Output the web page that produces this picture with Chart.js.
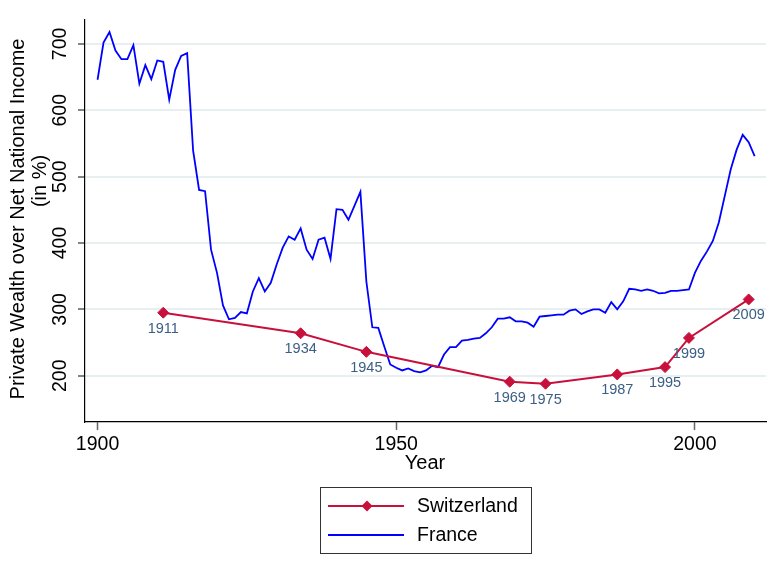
<!DOCTYPE html>
<html lang="en">
<head>
    <meta charset="UTF-8">
    <title>Private Wealth over Net National Income</title>
    <script src="https://cdn.jsdelivr.net/npm/chart.js"></script>
    <style>
        body { margin: 0; background: #fff; }
        #box { width: 783px; height: 575px; }
    </style>
</head>
<body>
    <div id="box"><canvas id="grafico"></canvas></div>

<script>
    // Switzerland - benchmark years
    const chYears = [1911, 1934, 1945, 1969, 1975, 1987, 1995, 1999, 2009];
    const chValues = [295, 264, 236, 191, 188, 202, 213, 257, 315];

    // France - yearly series
    const frYears = [
        1900, 1901, 1902, 1903, 1904, 1905, 1906, 1907, 1908, 1909,
        1910, 1911, 1912, 1913, 1914, 1915, 1916, 1917, 1918, 1919,
        1920, 1921, 1922, 1923, 1924, 1925, 1926, 1927, 1928, 1929,
        1930, 1931, 1932, 1933, 1934, 1935, 1936, 1937, 1938, 1939,
        1940, 1941, 1942, 1943, 1944, 1945, 1946, 1947, 1948, 1949,
        1950, 1951, 1952, 1953, 1954, 1955, 1956, 1957, 1958, 1959,
        1960, 1961, 1962, 1963, 1964, 1965, 1966, 1967, 1968, 1969,
        1970, 1971, 1972, 1973, 1974, 1975, 1976, 1977, 1978, 1979,
        1980, 1981, 1982, 1983, 1984, 1985, 1986, 1987, 1988, 1989,
        1990, 1991, 1992, 1993, 1994, 1995, 1996, 1997, 1998, 1999,
        2000, 2001, 2002, 2003, 2004, 2005, 2006, 2007, 2008, 2009,
        2010
    ];
    const frValues = [
        646, 702, 718, 690, 677, 677, 698, 640, 668, 647,
        675, 673, 616, 661, 682, 686, 539, 480, 478, 390,
        355, 306, 285, 287, 296, 294, 327, 347, 327, 340,
        368, 393, 410, 405, 422, 390, 376, 405, 408, 376,
        451, 450, 435, 456, 477, 342, 273, 272, 244, 217,
        212, 208, 211, 207, 205, 208, 215, 213, 232, 243,
        243, 253, 254, 256, 257, 264, 273, 286, 286, 288,
        282, 282, 280, 274, 289, 290, 291, 292, 292, 298,
        300, 293, 297, 300, 300, 295, 311, 300, 312, 331,
        330, 328, 330, 328, 324, 325, 328, 328, 329, 330,
        355, 373, 387, 403, 431, 471, 511, 541, 563, 552,
        531
    ];

    const xTicks = [1900, 1950, 2000];
    const yTicks = [200, 300, 400, 500, 600, 700];

    const corSuica = '#c8103c';
    const corFranca = '#0000ff';
    const corRotulo = '#3b5e84';
    const fonte = '"Liberation Sans", Arial, sans-serif';

    // textos desenhados a mao: rotulos do eixo y, titulos, rotulos dos pontos, legenda
    const textosPlugin = {
        id: 'textos',
        afterDraw(chart) {
            const ctx = chart.ctx;
            const y = chart.scales.y;
            ctx.save();

            // rotulos do eixo y (girados)
            ctx.fillStyle = '#000';
            ctx.font = '19.5px ' + fonte;
            ctx.textAlign = 'center';
            ctx.textBaseline = 'middle';
            y.ticks.forEach(function (t) {
                const py = y.getPixelForValue(t.value);
                ctx.save();
                ctx.translate(61, py);
                ctx.rotate(-Math.PI / 2);
                ctx.fillText(String(t.value), 0, 0);
                ctx.restore();
            });

            // titulo do eixo y
            ctx.font = '20px ' + fonte;
            ctx.save();
            ctx.translate(18, 219);
            ctx.rotate(-Math.PI / 2);
            ctx.fillText('Private Wealth over Net National Income', 0, 0);
            ctx.restore();
            ctx.save();
            ctx.translate(40, 181);
            ctx.rotate(-Math.PI / 2);
            ctx.fillText('(in %)', 0, 0);
            ctx.restore();

            // titulo do eixo x
            ctx.fillText('Year', 425, 463);

            // rotulos dos pontos da Suica
            const meta = chart.getDatasetMeta(0);
            ctx.fillStyle = corRotulo;
            ctx.font = '14.5px ' + fonte;
            meta.data.forEach(function (pt, i) {
                ctx.fillText(String(chYears[i]), pt.x, pt.y + 16);
            });

            // legenda com moldura
            ctx.strokeStyle = '#333';
            ctx.lineWidth = 1;
            ctx.strokeRect(320.5, 487.5, 211, 66);
            const linhas = [
                { label: chart.data.datasets[0].label, cor: corSuica, marcador: true, y: 506 },
                { label: chart.data.datasets[1].label, cor: corFranca, marcador: false, y: 535 }
            ];
            ctx.textAlign = 'left';
            ctx.font = '19.5px ' + fonte;
            linhas.forEach(function (l) {
                ctx.strokeStyle = l.cor;
                ctx.lineWidth = 2;
                ctx.beginPath();
                ctx.moveTo(328, l.y);
                ctx.lineTo(404, l.y);
                ctx.stroke();
                if (l.marcador) {
                    ctx.fillStyle = l.cor;
                    ctx.beginPath();
                    ctx.moveTo(367, l.y - 5.5);
                    ctx.lineTo(372.5, l.y);
                    ctx.lineTo(367, l.y + 5.5);
                    ctx.lineTo(361.5, l.y);
                    ctx.closePath();
                    ctx.fill();
                }
                ctx.fillStyle = '#000';
                ctx.fillText(l.label, 417, l.y + 1);
            });

            ctx.restore();
        }
    };

    const dados = {
        datasets: [
            {
                label: 'Switzerland',
                data: chYears.map(function (ano, i) { return { x: ano, y: chValues[i] }; }),
                borderColor: corSuica,
                backgroundColor: corSuica,
                borderWidth: 2,
                pointStyle: 'rectRot',
                pointRadius: 5.5,
                pointBorderWidth: 1,
                tension: 0,
                order: 1
            },
            {
                label: 'France',
                data: frYears.map(function (ano, i) { return { x: ano, y: frValues[i] }; }),
                borderColor: corFranca,
                backgroundColor: corFranca,
                borderWidth: 1.8,
                pointRadius: 0,
                tension: 0,
                order: 2
            }
        ]
    };

    const config = {
        type: 'line',
        data: dados,
        options: {
            responsive: true,
            maintainAspectRatio: false,
            animation: false,
            layout: { padding: { top: 20, right: 17, left: 0, bottom: 0 } },
            plugins: {
                legend: { display: false },
                tooltip: { enabled: false }
            },
            scales: {
                x: {
                    type: 'linear',
                    min: 1897.9,
                    max: 2011.9,
                    afterBuildTicks: function (scale) {
                        scale.ticks = xTicks.map(function (v) { return { value: v }; });
                    },
                    afterFit: function (scale) { scale.height = 153; },
                    grid: {
                        drawOnChartArea: false,
                        tickLength: 8,
                        tickColor: '#666',
                        tickWidth: 1.5
                    },
                    border: { color: '#000', width: 1.2 },
                    ticks: {
                        color: '#000',
                        font: { family: fonte, size: 19.5 },
                        padding: 3,
                        maxRotation: 0,
                        callback: function (valor) { return String(valor); }
                    }
                },
                y: {
                    type: 'linear',
                    min: 130.3,
                    max: 736,
                    afterBuildTicks: function (scale) {
                        scale.ticks = yTicks.map(function (v) { return { value: v }; });
                    },
                    afterFit: function (scale) { scale.width = 85; },
                    grid: {
                        color: '#e8eff1',
                        lineWidth: 2,
                        tickLength: 7,
                        tickColor: '#333',
                        tickWidth: 1.2
                    },
                    border: { color: '#000', width: 1.2 },
                    ticks: { display: false }
                }
            }
        },
        plugins: [textosPlugin]
    };

    let myChart = new Chart(document.getElementById('grafico'), config);
</script>
</body>
</html>
